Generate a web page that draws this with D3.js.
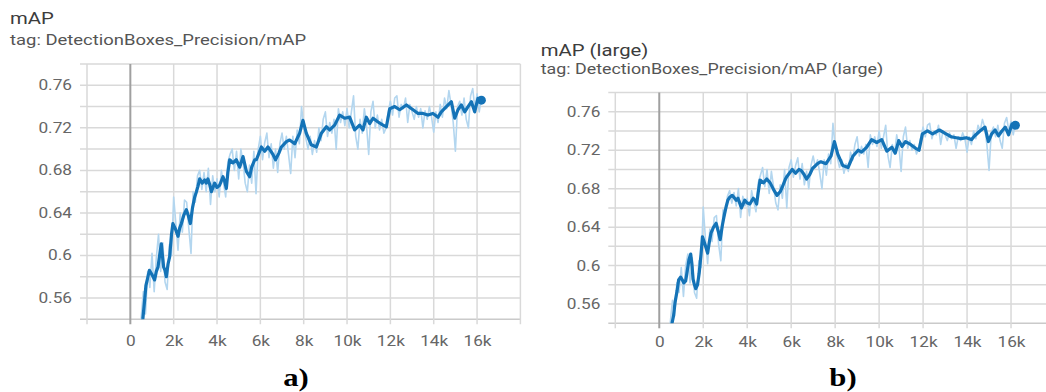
<!DOCTYPE html>
<html><head><meta charset="utf-8">
<script src="https://cdn.jsdelivr.net/npm/d3@7"></script>
<style>
html,body{margin:0;padding:0;background:#fff;}
svg{display:block;}
</style></head><body>
<svg id="chart" width="1046" height="392"></svg>
<script>
// Axis ticks and labels
const stepTicks = [-2000,0,2000,4000,6000,8000,10000,12000,14000,16000,18000];
const stepTickLabels = ["","0","2k","4k","6k","8k","10k","12k","14k","16k",""];
const mapGrid = [0.54,0.56,0.58,0.60,0.62,0.64,0.66,0.68,0.70,0.72,0.74,0.76,0.78];
const mapTicks = [0.56,0.60,0.64,0.68,0.72,0.76];
const mapTickLabels = ["0.56","0.6","0.64","0.68","0.72","0.76"];

// Smoothed curves (shared step positions)
const smoothSteps = [520,580,650,720,812,880,970,1050,1120,1200,1275,1350,1430,1490,1537,1600,1660,1740,1815,1900,
 1965,2080,2200,2280,2355,2470,2585,2680,2770,2870,2970,3050,3120,3200,3320,3430,3500,3580,3660,3740,
 3890,4000,4120,4275,4350,4430,4500,4585,4735,4890,5045,5200,5355,5505,5600,5740,5815,5950,6045,6200,
 6350,6450,6580,6700,6850,6970,7200,7350,7585,7815,7965,8120,8350,8585,8815,9045,9200,9430,9660,9890,
 10120,10350,10580,10735,10890,11045,11200,11430,11660,11815,11970,12200,12430,12740,13045,13275,13505,13735,13965,14200,
 14350,14585,14815,14970,15120,15275,15430,15585,15740,15890,16040,16200];
const mapSmooth = [0.532,0.541,0.556,0.572,0.580,0.586,0.583,0.580,0.577,0.585,0.589,0.600,0.611,0.598,0.589,0.586,0.580,0.592,0.599,0.620,
 0.630,0.625,0.618,0.626,0.630,0.638,0.643,0.637,0.630,0.645,0.655,0.660,0.665,0.672,0.668,0.671,0.668,0.672,0.667,0.660,
 0.668,0.664,0.666,0.674,0.670,0.663,0.678,0.690,0.687,0.690,0.683,0.693,0.679,0.674,0.683,0.690,0.690,0.697,0.702,0.698,
 0.702,0.699,0.695,0.690,0.696,0.702,0.707,0.7085,0.705,0.715,0.727,0.715,0.704,0.702,0.715,0.721,0.718,0.7225,0.732,0.729,
 0.730,0.718,0.7225,0.718,0.730,0.724,0.729,0.7255,0.7225,0.721,0.738,0.740,0.737,0.7415,0.737,0.7335,0.7335,0.732,0.7335,0.730,
 0.735,0.740,0.7445,0.729,0.737,0.7415,0.735,0.740,0.7445,0.735,0.7477,0.746];
const mapLargeSmooth = [0.532,0.540,0.548,0.562,0.574,0.585,0.588,0.585,0.582,0.584,0.595,0.606,0.612,0.600,0.586,0.580,0.576,0.580,0.592,0.612,
 0.630,0.622,0.613,0.625,0.634,0.640,0.644,0.636,0.627,0.642,0.654,0.662,0.668,0.671,0.673,0.670,0.668,0.670,0.665,0.660,
 0.668,0.665,0.664,0.670,0.668,0.664,0.676,0.689,0.686,0.690,0.686,0.679,0.673,0.677,0.682,0.690,0.693,0.697,0.700,0.696,
 0.700,0.699,0.695,0.690,0.695,0.701,0.706,0.708,0.706,0.714,0.729,0.716,0.704,0.702,0.714,0.720,0.718,0.723,0.731,0.728,
 0.731,0.719,0.723,0.717,0.730,0.724,0.729,0.726,0.722,0.720,0.737,0.740,0.737,0.741,0.737,0.734,0.733,0.732,0.733,0.731,
 0.735,0.740,0.744,0.729,0.737,0.741,0.735,0.740,0.744,0.736,0.747,0.746];

// Raw evaluation values
const rawSteps = [480,600,700,800,900,1000,1100,1200,1300,1400,1500,1600,1700,1800,1900,2000,2100,2200,2300,2400,
 2500,2600,2700,2800,2900,3000,3100,3200,3300,3400,3500,3600,3700,3800,3900,4000,4100,4200,4300,4400,
 4500,4600,4700,4800,4900,5000,5100,5200,5300,5400,5500,5600,5700,5800,5900,6000,6100,6200,6300,6400,
 6500,6600,6700,6800,6900,7000,7100,7200,7300,7400,7500,7600,7700,7800,7900,8000,8100,8200,8300,8400,
 8500,8600,8700,8800,8900,9000,9100,9200,9300,9400,9500,9600,9700,9800,9900,10000,10100,10200,10300,10400,
 10500,10600,10700,10800,10900,11000,11100,11200,11300,11400,11500,11600,11700,11800,11900,12000,12100,12200,12300,12400,
 12500,12600,12700,12800,12900,13000,13100,13200,13300,13400,13500,13600,13700,13800,13900,14000,14100,14200,14300,14400,
 14500,14600,14700,14800,14900,15000,15100,15200,15300,15400,15500,15600,15700,15800,15900,16000,16100,16200];
const mapRaw = [0.536,0.566,0.545,0.585,0.570,0.602,0.566,0.598,0.620,0.585,0.612,0.575,0.568,0.610,0.600,0.655,0.630,0.605,0.640,0.622,
 0.652,0.650,0.625,0.602,0.660,0.650,0.675,0.680,0.662,0.678,0.660,0.682,0.648,0.675,0.660,0.672,0.655,0.680,0.668,0.655,
 0.688,0.695,0.700,0.680,0.698,0.672,0.700,0.688,0.668,0.660,0.685,0.668,0.698,0.658,0.700,0.712,0.690,0.706,0.715,0.692,
 0.705,0.682,0.700,0.678,0.705,0.715,0.700,0.712,0.695,0.677,0.712,0.692,0.718,0.705,0.740,0.722,0.710,0.700,0.712,0.695,
 0.708,0.697,0.720,0.708,0.728,0.735,0.712,0.725,0.715,0.728,0.700,0.738,0.725,0.735,0.722,0.738,0.720,0.735,0.750,0.712,
 0.700,0.728,0.715,0.738,0.722,0.695,0.735,0.745,0.720,0.732,0.718,0.728,0.715,0.720,0.735,0.745,0.732,0.748,0.750,0.730,
 0.742,0.738,0.748,0.725,0.742,0.735,0.728,0.740,0.730,0.738,0.720,0.736,0.728,0.740,0.730,0.716,0.735,0.725,0.742,0.730,
 0.748,0.738,0.755,0.742,0.725,0.698,0.740,0.745,0.732,0.748,0.728,0.720,0.750,0.757,0.738,0.752,0.735,0.748];
const mapLargeRaw = [0.536,0.564,0.548,0.582,0.572,0.598,0.568,0.600,0.612,0.582,0.608,0.572,0.566,0.605,0.598,0.661,0.628,0.602,0.638,0.625,
 0.650,0.652,0.622,0.605,0.658,0.652,0.672,0.678,0.665,0.676,0.662,0.680,0.650,0.672,0.662,0.670,0.652,0.678,0.666,0.656,
 0.686,0.694,0.702,0.682,0.700,0.675,0.698,0.682,0.665,0.658,0.684,0.670,0.700,0.660,0.702,0.710,0.692,0.704,0.712,0.690,
 0.706,0.684,0.698,0.680,0.704,0.714,0.702,0.710,0.696,0.680,0.710,0.694,0.716,0.706,0.748,0.724,0.712,0.702,0.710,0.696,
 0.706,0.698,0.718,0.710,0.726,0.734,0.714,0.724,0.716,0.726,0.702,0.736,0.726,0.734,0.724,0.740,0.722,0.734,0.746,0.714,
 0.702,0.726,0.716,0.736,0.724,0.698,0.734,0.744,0.722,0.730,0.720,0.726,0.716,0.722,0.734,0.744,0.734,0.746,0.748,0.732,
 0.740,0.736,0.746,0.726,0.740,0.736,0.730,0.738,0.732,0.736,0.722,0.734,0.730,0.738,0.732,0.718,0.734,0.726,0.740,0.732,
 0.746,0.740,0.752,0.744,0.726,0.699,0.738,0.744,0.734,0.746,0.730,0.722,0.748,0.754,0.740,0.750,0.736,0.748];

const panels = [
  {title:"mAP", tag:"tag: DetectionBoxes_Precision/mAP", raw:mapRaw, smooth:mapSmooth,
   left:87, right:520.4, top:64, bottom:319.3,
   titleX:10, titleY:24, titleSize:16.5, tagY:45, tagSize:15, xPad:17, caption:"a)", capX:296},
  {title:"mAP (large)", tag:"tag: DetectionBoxes_Precision/mAP (large)", raw:mapLargeRaw, smooth:mapLargeSmooth,
   left:615.3, right:1055, top:92.5, bottom:323.3,
   titleX:540.7, titleY:56.5, titleSize:16.5, tagY:74.5, tagSize:14.5, xPad:14, caption:"b)", capX:843}
];

const S = 1.23;            // horizontal text stretch
const sans = "Roboto, 'Noto Sans', sans-serif";
const serif = "'Liberation Serif', 'Times New Roman', serif";
const svg = d3.select("#chart");
const gridColor = "#d9d9d9";
const lineColor = "#1473b7";
const rawColor = "#b3d6ef";

panels.forEach((p, k) => {
  const x = d3.scaleLinear().domain([-2000, 18000]).range([p.left, p.right]);
  const y = d3.scaleLinear().domain([0.54, 0.78]).range([p.bottom, p.top]);
  const g = svg.append("g");

  // header
  g.append("text").attr("x", p.titleX / S).attr("y", p.titleY)
    .attr("transform", `scale(${S},1)`).style("font-family", sans)
    .style("font-size", p.titleSize + "px").attr("fill", "#3c3c3c").text(p.title);
  g.append("text").attr("x", p.titleX / S).attr("y", p.tagY)
    .attr("transform", `scale(${S},1)`).style("font-family", sans)
    .style("font-size", p.tagSize + "px").attr("fill", "#555").text(p.tag);

  // grid
  g.append("g").selectAll("line").data(mapGrid).join("line")
    .attr("x1", p.left - 7).attr("x2", p.right)
    .attr("y1", d => y(d)).attr("y2", d => y(d))
    .attr("stroke", (d, i) => i === 0 ? "#cacaca" : gridColor).attr("stroke-width", 1.5);
  g.append("g").selectAll("line").data(stepTicks).join("line")
    .attr("x1", d => x(d)).attr("x2", d => x(d))
    .attr("y1", p.top).attr("y2", p.bottom + 5)
    .attr("stroke", d => d === 0 ? "#a0a0a0" : gridColor)
    .attr("stroke-width", d => d === 0 ? 2 : 1.5);

  // axes labels
  const yAxis = g.append("g").attr("transform", `translate(${p.left},0)`)
    .call(d3.axisLeft(y).tickValues(mapTicks).tickFormat((d, i) => mapTickLabels[i]).tickSize(0).tickPadding(15 / S));
  const xAxis = g.append("g").attr("transform", `translate(0,${p.bottom})`)
    .call(d3.axisBottom(x).tickValues(stepTicks).tickFormat((d, i) => stepTickLabels[i]).tickSize(0).tickPadding(p.xPad));
  [yAxis, xAxis].forEach(a => {
    a.select(".domain").remove();
    a.selectAll("text").attr("transform", `scale(${S},1)`)
      .style("font-family", sans).style("font-size", "14px").attr("fill", "#666");
  });

  // data
  const clipId = "clip" + k;
  g.append("clipPath").attr("id", clipId).append("rect")
    .attr("x", p.left).attr("y", p.top).attr("width", p.right - p.left).attr("height", p.bottom - p.top);
  const plot = g.append("g").attr("clip-path", `url(#${clipId})`);

  const rawLine = d3.line().x((d, i) => x(rawSteps[i])).y(d => y(d));
  plot.append("path").datum(p.raw).attr("d", rawLine)
    .attr("fill", "none").attr("stroke", rawColor).attr("stroke-width", 1.6).attr("stroke-linejoin", "round");

  const smoothLine = d3.line().x((d, i) => x(smoothSteps[i])).y(d => y(d));
  plot.append("path").datum(p.smooth).attr("d", smoothLine)
    .attr("fill", "none").attr("stroke", lineColor).attr("stroke-width", 3.2).attr("stroke-linejoin", "round");

  const last = p.smooth.length - 1;
  g.append("circle").attr("cx", x(smoothSteps[last])).attr("cy", y(p.smooth[last])).attr("r", 4.5).attr("fill", lineColor);

  // caption
  g.append("text").attr("x", p.capX / S).attr("y", 386).attr("transform", `scale(${S},1)`)
    .attr("text-anchor", "middle").style("font-family", serif)
    .style("font-weight", "bold").style("font-size", "25px").attr("fill", "#000").text(p.caption);
});
</script>
</body></html>
